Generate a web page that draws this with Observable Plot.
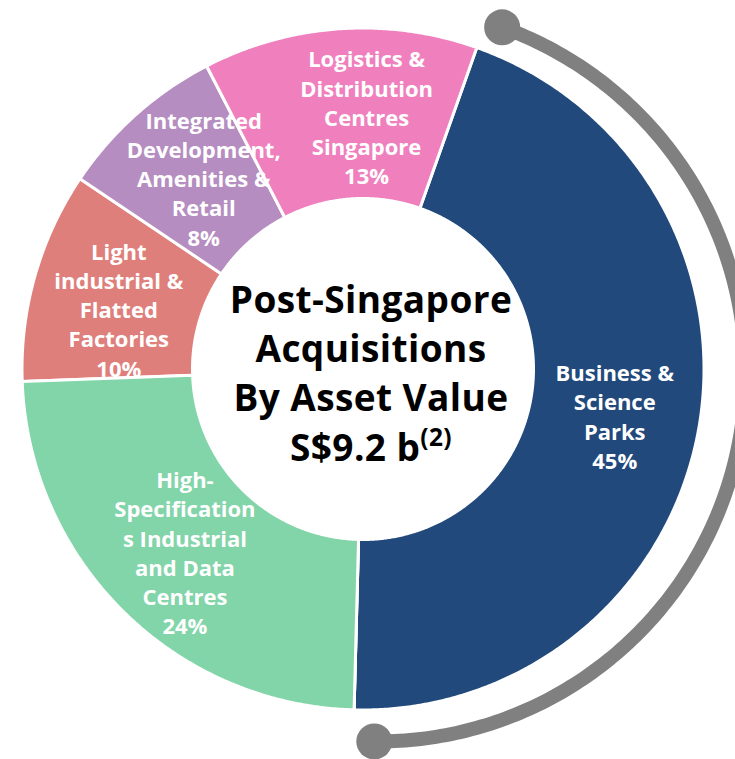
<!DOCTYPE html>
<html>
<head>
<meta charset="utf-8">
<script src="https://cdn.jsdelivr.net/npm/d3@7"></script>
<script src="https://cdn.jsdelivr.net/npm/@observablehq/plot@0.6"></script>
<style>
  html, body { margin: 0; padding: 0; background: #ffffff; }
  #chart svg { display: block; }
</style>
</head>
<body>
<div id="chart"></div>
<script>
// ---------- data ----------
const categories = [
  "Business & Science Parks",
  "High-Specifications Industrial and Data Centres",
  "Light industrial & Flatted Factories",
  "Integrated Development, Amenities & Retail",
  "Logistics & Distribution Centres Singapore"
];
const shares = [45, 24, 10, 8, 13];
const labelLines = [
  ["Business &", "Science", "Parks"],
  ["High-", "Specification", "s Industrial", "and Data", "Centres"],
  ["Light", "industrial &", "Flatted", "Factories"],
  ["Integrated", "Development,", "Amenities &", "Retail"],
  ["Logistics &", "Distribution", "Centres", "Singapore"]
];
const titleLines = ["Post-Singapore", "Acquisitions", "By Asset Value", "S$9.2 b"];
const titleNote = "(2)";
const colors = ["#21497C", "#82D4A9", "#DF7F7C", "#B58DC0", "#F07FBE"];

// ---------- layout ----------
const W = 735, H = 759;
const cx = 362.5, cy = 368.5;          // donut centre
const R = 341, r0 = 170.5;             // outer / inner radius
const startDeg = 19.5;                 // first slice starts here (clockwise from 12 o'clock)
const labelR = 256;
const labelNudge = [[0, 0], [2, 1], [2, 10], [11, 0], [21, 3]];
const ringC = [377, 373], ringR = 368; // decorative ring around the first slice
const deg = Math.PI / 180;

const rows = categories.map((c, i) => ({category: c, share: shares[i], i}));
const arcs = d3.pie().sort(null).value(d => d.share)
  .startAngle(startDeg * deg).endAngle(startDeg * deg + 2 * Math.PI)(rows);

const pt = (ox, oy, rad, a) => ({x: ox + rad * Math.sin(a), y: oy - rad * Math.cos(a)});

// slice polygons
const slicePts = [];
for (const a of arcs) {
  const n = Math.max(4, Math.ceil((a.endAngle - a.startAngle) / (0.4 * deg)));
  for (let k = 0; k <= n; k++) {
    const t = a.startAngle + (a.endAngle - a.startAngle) * k / n;
    slicePts.push({...pt(cx, cy, R, t), category: a.data.category, i: a.data.i});
  }
  for (let k = n; k >= 0; k--) {
    const t = a.startAngle + (a.endAngle - a.startAngle) * k / n;
    slicePts.push({...pt(cx, cy, r0, t), category: a.data.category, i: a.data.i});
  }
}

// labels
const labels = arcs.map(a => {
  const m = (a.startAngle + a.endAngle) / 2;
  const p = pt(cx, cy, labelR, m);
  const [dx, dy] = labelNudge[a.data.i];
  return {
    x: p.x + dx, y: p.y + dy, i: a.data.i,
    text: [...labelLines[a.data.i], a.data.share + "%"].join("\n")
  };
});

// decorative ring spanning the first (largest) slice
const first = arcs[0];
const ringA0 = first.startAngle + 0.3 * deg, ringA1 = first.endAngle - 1.0 * deg;
const ringPts = d3.range(0, 201).map(k => pt(ringC[0], ringC[1], ringR, ringA0 + (ringA1 - ringA0) * k / 200));
const ringEnds = [ringPts[0], ringPts[ringPts.length - 1]];

const lastIdx = 1; // slice drawn over its neighbour's label (as in the source)
const sliceStyle = {x: "x", y: "y", z: "category", fill: "category", stroke: "white",
  strokeWidth: 3, curve: "linear-closed", strokeLinejoin: "round"};
const labelStyle = {x: "x", y: "y", text: "text", fill: "white", fontSize: 22,
  fontWeight: "bold", lineHeight: 1.33, textAnchor: "middle", lineAnchor: "middle"};

const plot = Plot.plot({
  width: W, height: H, margin: 0,
  x: {domain: [0, W], range: [0, W], axis: null},
  y: {domain: [0, H], range: [0, H], axis: null},
  color: {domain: categories, range: colors},
  style: {fontFamily: "'Open Sans', 'Noto Sans', sans-serif", background: "white"},
  marks: [
    Plot.line(ringPts, {x: "x", y: "y", stroke: "#808080", strokeWidth: 14, strokeLinecap: "butt"}),
    Plot.dot(ringEnds, {x: "x", y: "y", r: 18, fill: "#808080"}),
    Plot.line(slicePts, sliceStyle),
    Plot.text(labels.filter(d => d.i !== lastIdx), labelStyle),
    Plot.line(slicePts.filter(d => d.i === lastIdx), sliceStyle),
    Plot.text(labels.filter(d => d.i === lastIdx), labelStyle),
    Plot.text([titleLines.join("\n")], {
      x: cx + 8, y: cy + 2, text: d => d, fill: "black", fontSize: 37,
      fontWeight: "bold", lineHeight: 1.33, textAnchor: "middle", lineAnchor: "middle"
    })
  ]
});

// superscript footnote marker on the last title line; slight tracking on the title
plot.querySelectorAll("tspan").forEach(ts => {
  if (ts.textContent === titleLines[titleLines.length - 1]) {
    const sup = document.createElementNS("http://www.w3.org/2000/svg", "tspan");
    sup.setAttribute("font-size", "0.66em");
    sup.setAttribute("dy", "-0.6em");
    sup.textContent = titleNote;
    ts.appendChild(sup);
    ts.parentNode.setAttribute("letter-spacing", "0.4");
  }
});

document.getElementById("chart").appendChild(plot);
</script>
</body>
</html>
